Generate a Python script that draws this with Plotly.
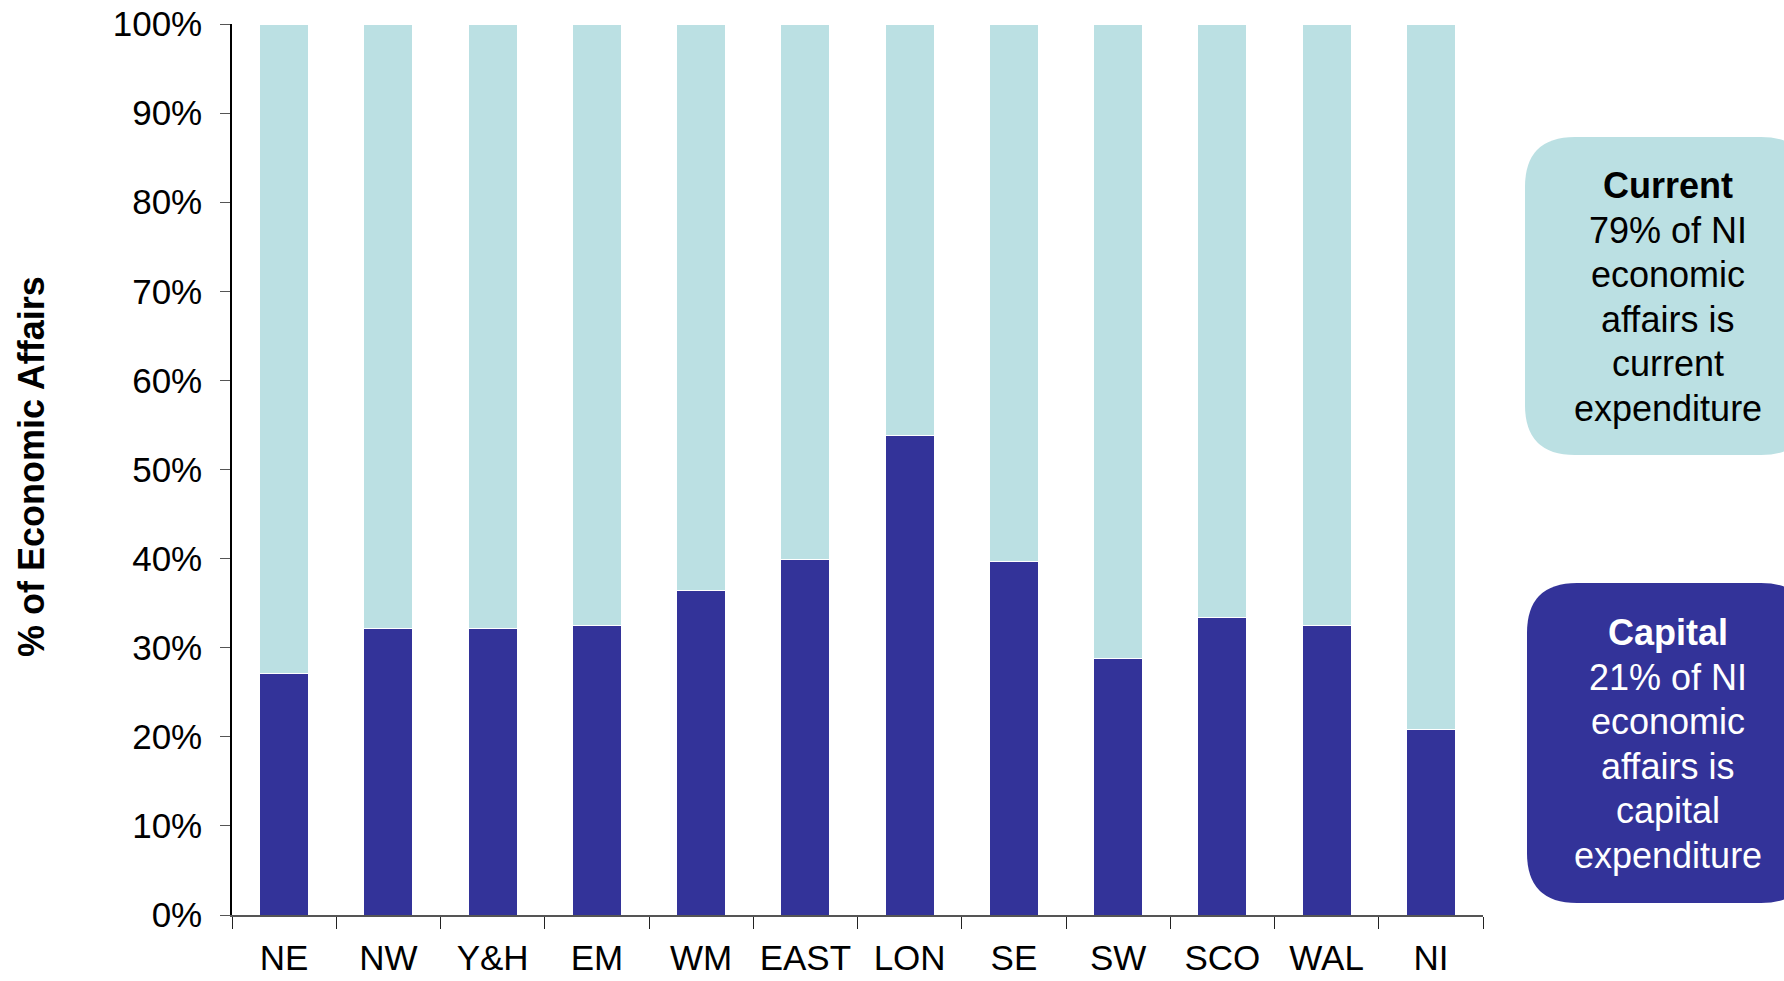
import plotly.graph_objects as go

# Regions and share of economic affairs spending (%)
regions = ["NE", "NW", "Y&H", "EM", "WM", "EAST", "LON", "SE", "SW", "SCO", "WAL", "NI"]
capital = [27.1, 32.1, 32.1, 32.5, 36.4, 39.9, 53.8, 39.7, 28.8, 33.4, 32.5, 20.8]
current = [100 - c for c in capital]
y_ticks = [0, 10, 20, 30, 40, 50, 60, 70, 80, 90, 100]
y_tick_labels = [f"{t}%" for t in y_ticks]

W, H = 1784, 981
L, R, T, B = 232, 1483, 24, 915  # plot area in pixels

def px2x(px):
    return (px - L) / (R - L)

def px2y(py):
    return (B - py) / (B - T)

def rounded_box(x0, y0, x1, y1, r):
    # path in paper coordinates from pixel corners
    ax0, ax1 = px2x(x0), px2x(x1)
    ay0, ay1 = px2y(y0), px2y(y1)  # ay0 is top
    rx = r / (R - L)
    ry = r / (B - T)
    return (f"M {ax0 + rx},{ay0} L {ax1 - rx},{ay0} Q {ax1},{ay0} {ax1},{ay0 - ry} "
            f"L {ax1},{ay1 + ry} Q {ax1},{ay1} {ax1 - rx},{ay1} "
            f"L {ax0 + rx},{ay1} Q {ax0},{ay1} {ax0},{ay1 + ry} "
            f"L {ax0},{ay0 - ry} Q {ax0},{ay0} {ax0 + rx},{ay0} Z")

CAP = "#333399"
CUR = "#BBE0E3"
FONT = "Liberation Sans, Arial, sans-serif"

fig = go.Figure()
fig.add_trace(go.Bar(x=regions, y=capital, name="Capital", marker=dict(color=CAP, line=dict(color="white", width=1))))
fig.add_trace(go.Bar(x=regions, y=current, name="Current", marker=dict(color=CUR, line=dict(color="white", width=1))))

fig.update_layout(
    barmode="stack", bargap=0.53, showlegend=False,
    width=W, height=H, margin=dict(l=L, r=W - R, t=T, b=H - B),
    plot_bgcolor="white", paper_bgcolor="white",
    font=dict(family=FONT, size=35, color="black"),
)
fig.update_xaxes(range=[-0.5, 11.5], showline=True, linecolor="#555", linewidth=1.5,
                 ticks="outside", tickson="boundaries", ticklen=12, tickcolor="#222",
                 tickfont=dict(size=35), ticklabelstandoff=11, showgrid=False, automargin=False)
fig.update_yaxes(range=[0, 100], tickvals=y_ticks, ticktext=y_tick_labels, showline=True,
                 linecolor="black", linewidth=1.5, ticks="outside", ticklen=10, tickcolor="#555",
                 tickfont=dict(size=35), ticklabelstandoff=11, showgrid=False, zeroline=False,
                 automargin=False)

# y-axis title
fig.add_annotation(text="<b>% of Economic Affairs</b>", xref="paper", yref="paper",
                   x=px2x(32), y=px2y(467), textangle=-90, showarrow=False,
                   font=dict(size=36), xanchor="center", yanchor="middle")

# side boxes
fig.add_shape(type="path", path=rounded_box(1525, 137, 1811, 455, 50), xref="paper", yref="paper",
              fillcolor=CUR, line=dict(width=0), layer="above")
fig.add_shape(type="path", path=rounded_box(1527, 583, 1811, 903, 50), xref="paper", yref="paper",
              fillcolor=CAP, line=dict(width=0), layer="above")

cur_ni = round(current[-1])
cap_ni = round(capital[-1])
cur_lines = ["<b>Current</b>", f"{cur_ni}% of NI", "economic", "affairs is", "current", "expenditure"]
cap_lines = ["<b>Capital</b>", f"{cap_ni}% of NI", "economic", "affairs is", "capital", "expenditure"]
line_step = 44.6
for lines, centre, colour in [(cur_lines, 297, "black"), (cap_lines, 744, "white")]:
    first = centre - line_step * (len(lines) - 1) / 2
    for i, txt in enumerate(lines):
        fig.add_annotation(text=txt, xref="paper", yref="paper", x=px2x(1668),
                           y=px2y(first + i * line_step), showarrow=False,
                           font=dict(size=36, color=colour), xanchor="center", yanchor="middle")

fig.write_html("out.html", config={"displayModeBar": False},
               post_script="document.body.style.margin='0';document.body.style.overflow='hidden';")
